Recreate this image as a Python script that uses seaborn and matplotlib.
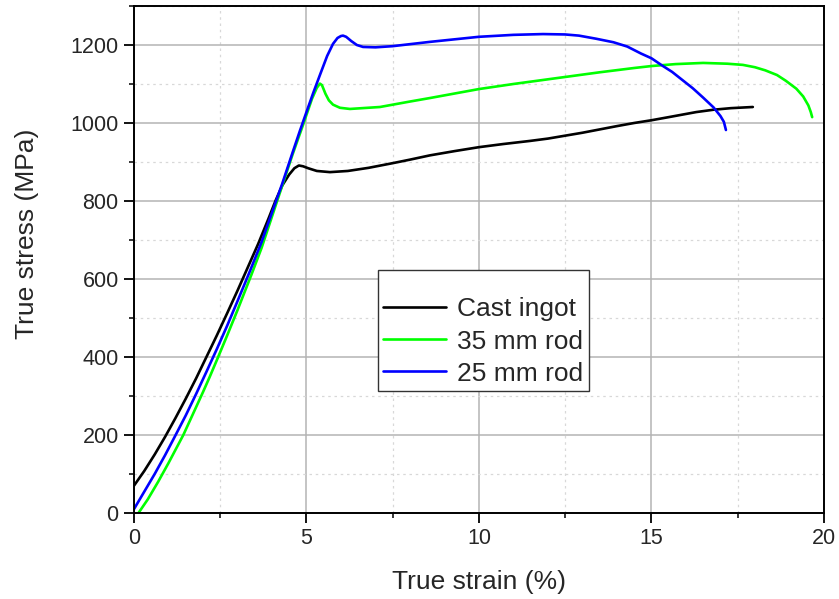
import matplotlib
matplotlib.use("Agg")
import matplotlib.pyplot as plt
from matplotlib.ticker import MultipleLocator
import seaborn as sns
import pandas as pd

series_names = ["Cast ingot", "35 mm rod", "25 mm rod"]
series_colors = ["#000000", "#00ff00", "#0000ff"]

cast_strain = [0, 0.3, 0.6, 0.9, 1.2, 1.5, 1.8, 2.1, 2.4, 2.7, 3.0, 3.3, 3.6, 3.9, 4.1, 4.3,
               4.5, 4.65, 4.78, 4.9, 5.05, 5.3, 5.68, 6.2, 6.8, 7.5, 8.0, 8.58, 9.3, 10,
               10.7, 11.48, 12.0, 13.0, 14.0, 14.5, 15.0, 15.5, 16.3, 16.8, 17.3, 17.94]
cast_stress = [70, 108, 150, 195, 243, 293, 345, 400, 455, 512, 570, 630, 690, 755, 800, 840,
               868, 884, 891, 889, 884, 877, 874, 877, 885, 897, 906, 917, 928, 938,
               946, 954, 960, 975, 992, 1000, 1007, 1015, 1028, 1034, 1038, 1041]

rod35_strain = [0.13, 0.4, 0.7, 1.0, 1.43, 1.7, 2.0, 2.2, 2.44, 2.7, 3.0, 3.4, 3.7, 4.0, 4.3,
                4.6, 4.9, 5.16, 5.3, 5.39, 5.45, 5.55, 5.65, 5.77, 5.97, 6.26, 7.13, 8.0,
                8.58, 10, 11, 12.5, 13.5, 14.5, 15, 15.7, 16.5, 17.2, 17.65, 18.0, 18.3,
                18.64, 18.9, 19.2, 19.4, 19.55, 19.62, 19.66]
rod35_stress = [0, 35, 80, 128, 200, 252, 310, 350, 400, 455, 520, 610, 680, 760, 840,
                920, 995, 1062, 1090, 1101, 1097, 1075, 1058, 1047, 1039, 1036, 1041, 1055,
                1064, 1087, 1100, 1118, 1130, 1141, 1146, 1151, 1154, 1152, 1149, 1143, 1135,
                1123, 1108, 1088, 1068, 1045, 1028, 1015]

rod25_strain = [0, 0.3, 0.6, 0.9, 1.19, 1.5, 1.8, 2.1, 2.4, 2.7, 3.0, 3.36, 3.7, 4.0, 4.3,
                4.6, 4.81, 5.0, 5.2, 5.39, 5.6, 5.77, 5.9, 6.0, 6.06, 6.15, 6.3, 6.46, 6.64,
                7.0, 7.5, 8.58, 10, 11, 11.86, 12.5, 12.9, 13.4, 13.9, 14.3, 14.7, 15.0,
                15.3, 15.6, 15.9, 16.2, 16.5, 16.8, 17.0, 17.1, 17.16]
rod25_stress = [10, 55, 100, 148, 197, 250, 305, 362, 420, 480, 543, 620, 695, 770, 845,
                925, 980, 1028, 1078, 1123, 1172, 1203, 1218, 1223, 1224, 1221, 1210, 1200, 1195,
                1194, 1197, 1208, 1221, 1226, 1228, 1227, 1224, 1216, 1207, 1196, 1178, 1166,
                1148, 1131, 1110, 1089, 1065, 1040, 1018, 1003, 982]

x_ticks = [0, 5, 10, 15, 20]
y_ticks = [0, 200, 400, 600, 800, 1000, 1200]

frames = []
for name, xs, ys in zip(series_names,
                        [cast_strain, rod35_strain, rod25_strain],
                        [cast_stress, rod35_stress, rod25_stress]):
    frames.append(pd.DataFrame({"strain": xs, "stress": ys, "sample": name}))
df = pd.concat(frames, ignore_index=True)

sns.set_style("white")
plt.rcParams["font.family"] = ["Liberation Sans", "DejaVu Sans"]

fig = plt.figure(figsize=(8.39, 5.99), dpi=100)
ax = fig.add_axes([0.1597, 0.1436, 0.8223, 0.8464])

sns.lineplot(data=df, x="strain", y="stress", hue="sample", hue_order=series_names,
             palette=series_colors, estimator=None, sort=False, linewidth=1.9, ax=ax)

ax.set_xlim(0, 20)
ax.set_ylim(0, 1300)
ax.set_xticks(x_ticks)
ax.set_yticks(y_ticks)
ax.xaxis.set_minor_locator(MultipleLocator(2.5))
ax.yaxis.set_minor_locator(MultipleLocator(100))

ax.grid(which="major", color="#b4b4b4", linewidth=1.1, linestyle="-")
ax.grid(which="minor", color="#d8d8d8", linewidth=0.9, linestyle=(0, (2, 3)))
ax.set_axisbelow(True)

for s in ax.spines.values():
    s.set_color("black")
    s.set_linewidth(1.4)

ax.tick_params(axis="both", which="major", direction="out", length=7, width=1.3,
               labelsize=15.5, color="black", bottom=True, left=True, top=False, right=False,
               pad=4)
ax.tick_params(axis="both", which="minor", direction="out", length=3.5, width=1.1,
               color="black", bottom=True, left=True, top=False, right=False)

ax.set_xlabel("True strain (%)", fontsize=19, labelpad=15)
ax.set_ylabel("True stress (MPa)", fontsize=19)
ax.yaxis.set_label_coords(-0.137, 0.550)

leg = ax.legend(title=" ", loc="lower left", bbox_to_anchor=(0.354, 0.2406),
                borderaxespad=0, fontsize=19, title_fontsize=11, frameon=True,
                fancybox=False, framealpha=1, edgecolor="#333333",
                handlelength=2.35, handletextpad=0.45, labelspacing=0.31,
                borderpad=0.2)
leg.get_frame().set_linewidth(1.0)

fig.savefig("out.png", dpi=100)
